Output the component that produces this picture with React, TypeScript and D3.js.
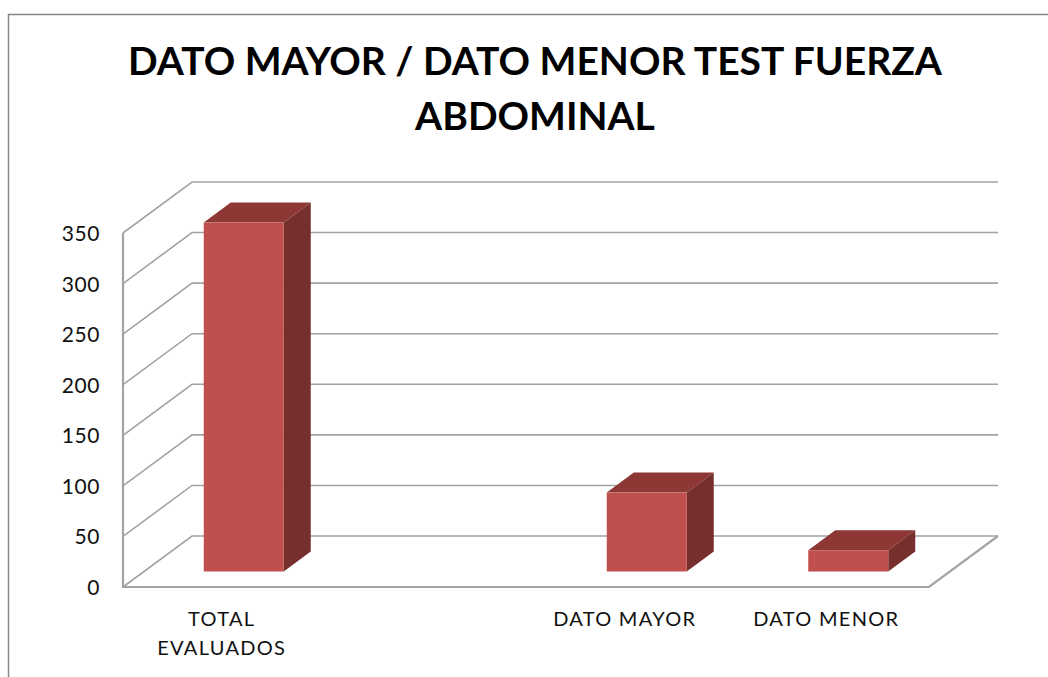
import React from "react";
import * as d3 from "d3";

const titleLines = ["DATO MAYOR / DATO MENOR TEST FUERZA", "ABDOMINAL"];
const categories = ["TOTAL EVALUADOS", "", "DATO MAYOR", "DATO MENOR"];
const values = [345, 0, 78, 21];
const yTicks = [0, 50, 100, 150, 200, 250, 300, 350];

const width = 1048;
const height = 677;

// front plane of the 3D box, the back wall is shifted by depth
const depthX = 69;
const depthY = -51;
const barDepthX = 27;
const barDepthY = -20;

const x = d3.scaleBand<string>().domain(categories.map((c, i) => c || `blank${i}`)).range([123, 929]);
const y = d3.scaleLinear().domain([0, 350]).range([587, 233]);
const barWidth = 80;

const gridColor = "#a3a3a3";
const frontColor = "#c0504d";
const topColor = "#8e3836";
const sideColor = "#772f2d";
const font = "Lato, 'Open Sans', sans-serif";

const poly = (pts: number[][]) => d3.line()(pts as [number, number][]) + "Z";

export default function App() {
  const floorOffsetX = (depthX - barDepthX) / 2;
  const floorOffsetY = (depthY - barDepthY) / 2;
  const y0 = y(0);

  return (
    <svg
      width={width}
      height={height}
      style={{ position: "absolute", left: 0, top: 0, background: "#fff" }}
    >
      {/* chart frame, runs off the picture */}
      <path d="M8.5,677V14.5H1048" fill="none" stroke="#868686" strokeWidth={1.5} />

      {titleLines.map((t, i) => (
        <text
          key={t}
          x={535}
          y={75 + i * 55}
          textAnchor="middle"
          fontFamily={font}
          fontWeight={700}
          fontSize={39}
          fill="#000"
        >
          {t}
        </text>
      ))}

      {/* wall and gridlines */}
      {yTicks.map((t) => (
        <path
          key={t}
          d={d3.line()([
            [123, y(t)],
            [123 + depthX, y(t) + depthY],
            [123 + depthX + 806, y(t) + depthY],
          ])!}
          fill="none"
          stroke={gridColor}
          strokeWidth={1.6}
        />
      ))}
      <line x1={123} x2={123} y1={y(350)} y2={y0} stroke={gridColor} strokeWidth={2.2} />
      <path
        d={d3.line()([
          [122, y0],
          [929, y0],
          [929 + depthX, y0 + depthY],
        ])!}
        fill="none"
        stroke={gridColor}
        strokeWidth={2.2}
      />

      {yTicks.map((t) => (
        <text
          key={t}
          x={100}
          y={y(t) + 8}
          textAnchor="end"
          fontFamily={font}
          fontSize={21}
          letterSpacing={0.6}
          fill="#111"
        >
          {t}
        </text>
      ))}

      {/* bars */}
      {categories.map((c, i) => {
        if (!c) return null;
        const center = x(c)! + x.bandwidth() / 2 + floorOffsetX - 1;
        const left = center - barWidth / 2;
        const right = center + barWidth / 2;
        const bottom = y0 + floorOffsetY;
        const top = bottom - (y0 - y(values[i]));
        return (
          <g key={c}>
            <path
              d={poly([
                [left, top],
                [left + barDepthX, top + barDepthY],
                [right + barDepthX, top + barDepthY],
                [right, top],
              ])}
              fill={topColor}
            />
            <path
              d={poly([
                [right, top],
                [right + barDepthX, top + barDepthY],
                [right + barDepthX, bottom + barDepthY],
                [right, bottom],
              ])}
              fill={sideColor}
            />
            <rect x={left} y={top} width={barWidth} height={bottom - top} fill={frontColor} />
          </g>
        );
      })}

      {/* category labels */}
      {categories.map((c) => {
        if (!c) return null;
        const center = x(c)! + x.bandwidth() / 2 - 2;
        const words = c === "TOTAL EVALUADOS" ? c.split(" ") : [c];
        return words.map((w, j) => (
          <text
            key={w}
            x={center}
            y={626 + j * 29}
            textAnchor="middle"
            fontFamily={font}
            fontSize={20}
            letterSpacing={1.3}
            fill="#111"
          >
            {w}
          </text>
        ));
      })}
    </svg>
  );
}
